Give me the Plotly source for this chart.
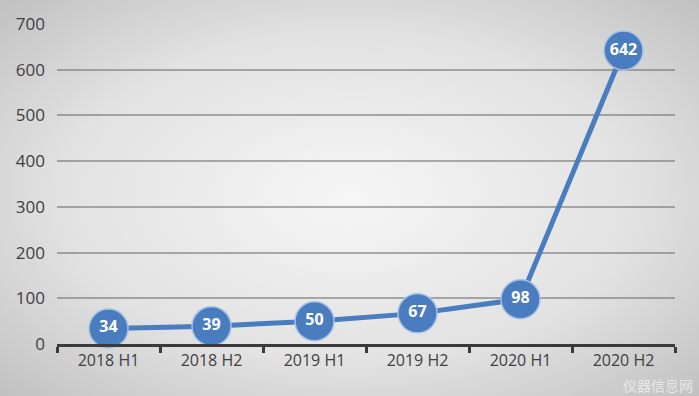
import base64
import plotly.graph_objects as go

categories = ["2018 H1", "2018 H2", "2019 H1", "2019 H2", "2020 H1", "2020 H2"]
values = [34, 39, 50, 67, 98, 642]
y_ticks = [0, 100, 200, 300, 400, 500, 600, 700]

W, H = 699, 396
ML, MR, MT, MB = 57, 24, 24, 52

svg = f'''<svg xmlns="http://www.w3.org/2000/svg" width="{W}" height="{H}" viewBox="0 0 {W} {H}" preserveAspectRatio="none">
<defs><radialGradient id="g" cx="50%" cy="50%" r="75%">
<stop offset="0%" stop-color="#f6f6f6"/><stop offset="55%" stop-color="#e2e2e2"/><stop offset="100%" stop-color="#bcbcbc"/>
</radialGradient></defs><rect width="{W}" height="{H}" fill="url(#g)"/></svg>'''
src = "data:image/svg+xml;base64," + base64.b64encode(svg.encode()).decode()

pw = W - ML - MR
ph = H - MT - MB

fig = go.Figure()
fig.add_trace(go.Scatter(
    x=categories, y=values, mode="lines+markers+text",
    line=dict(color="#4a7dbf", width=5),
    marker=dict(size=39, color="#4a7dbf", line=dict(color="#a9c2e4", width=1.5)),
    text=[str(v) for v in values], textposition="middle center",
    textfont=dict(color="white", size=16, family="Open Sans", weight="bold"),
    cliponaxis=False, hoverinfo="skip",
))

fig.update_layout(
    width=W, height=H,
    margin=dict(l=ML, r=MR, t=MT, b=MB),
    paper_bgcolor="#e0e0e0",
    plot_bgcolor="rgba(0,0,0,0)",
    showlegend=False,
    images=[dict(source=src, xref="paper", yref="paper",
                 x=-ML / pw, y=1 + MT / ph, sizex=W / pw, sizey=H / ph,
                 xanchor="left", yanchor="top", sizing="stretch", layer="below")],
    xaxis=dict(type="category", showgrid=False, showline=True, linecolor="#3a3a3a", linewidth=2.5,
               ticks="outside", tickson="boundaries", ticklen=6, tickwidth=2.5, tickcolor="#3a3a3a",
               tickfont=dict(family="Open Sans", size=16, color="#404040"),
               range=[-0.5, 5.5], zeroline=False),
    yaxis=dict(range=[0, 700], tickvals=y_ticks, showgrid=True, gridcolor="rgba(110,110,110,0.55)",
               gridwidth=1.5, zeroline=False, showline=False, ticks="",
               tickfont=dict(family="Open Sans", size=17, color="#404040"), ticklabelstandoff=11),
    annotations=[dict(text="仪器信息网", x=(695 - ML) / pw, y=(344 - 385) / ph, xref="paper", yref="paper",
                      xanchor="right", yanchor="middle", showarrow=False,
                      font=dict(family="Noto Sans CJK SC", size=14, color="rgba(255,255,255,0.6)"))],
)

fig.write_html("out.html", config={"displayModeBar": False},
               post_script="document.body.style.margin='0';document.body.style.overflow='hidden';")
